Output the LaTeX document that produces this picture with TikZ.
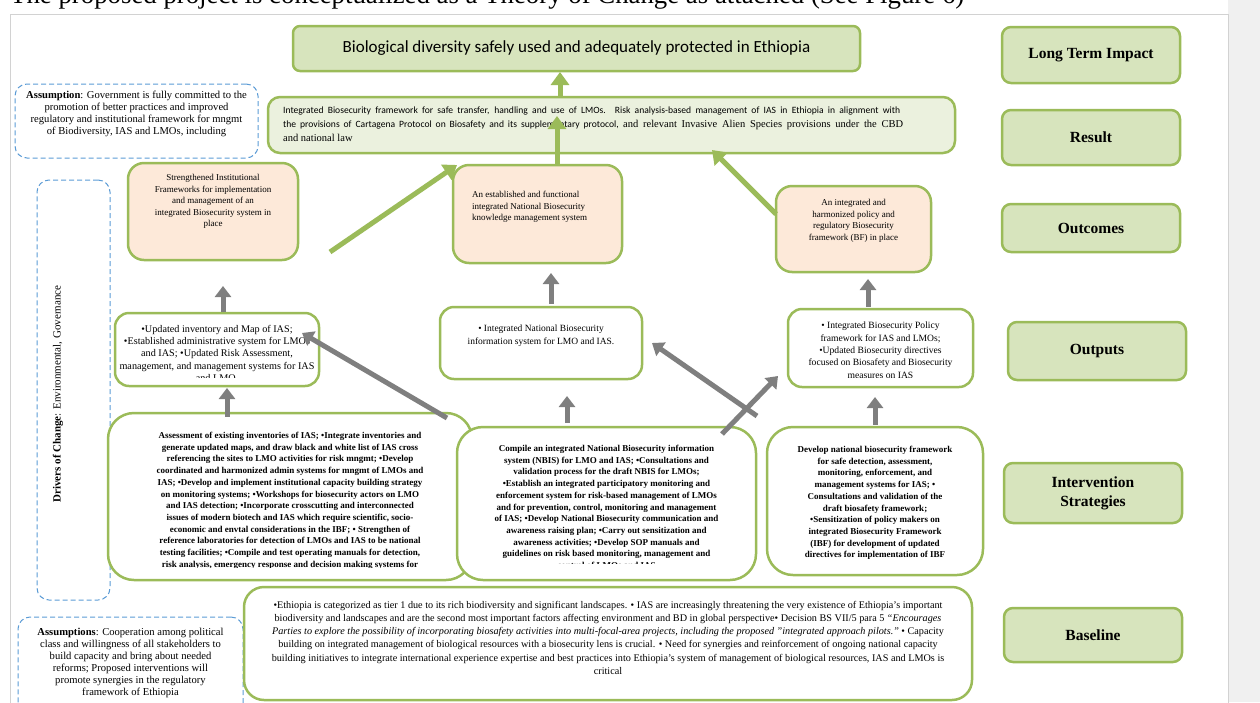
\documentclass[tikz,border=0pt]{standalone}
\usepackage{fontspec}
\setmainfont{Liberation Serif}
\newfontfamily\calibfont{Carlito}
\usetikzlibrary{arrows.meta}
\definecolor{tocgreen}{HTML}{9BBB59}
\definecolor{labelfill}{HTML}{D7E4BD}
\definecolor{resultfill}{HTML}{EBF1DE}
\definecolor{outcomefill}{HTML}{FDE9D9}
\definecolor{dashblue}{HTML}{5B9BD5}
\definecolor{arrowgray}{HTML}{7F7F7F}
\tikzset{
  tocbox/.style={draw=tocgreen,line width=2.5pt,inner sep=0pt},
  labelbox/.style={tocbox,rounded corners=9pt,fill=labelfill,minimum width=178pt,minimum height=55pt,align=center,font=\fontsize{15.5}{19}\selectfont\bfseries},
  outcomebox/.style={tocbox,rounded corners=16pt,fill=outcomefill},
  outputbox/.style={tocbox,rounded corners=14pt,fill=white},
  actionbox/.style={tocbox,rounded corners=26pt,fill=white},
  assumebox/.style={draw=dashblue,line width=1pt,dash pattern=on 5pt off 3pt,rounded corners=12pt,inner sep=0pt},
  smalltext/.style={inner sep=0pt,align=center,font=\fontsize{9}{11.6}\selectfont},
  boldtext/.style={inner sep=0pt,align=center,font=\fontsize{9}{11.7}\selectfont\bfseries},
  grayarrow/.style={draw=arrowgray,line width=5pt,-{Triangle[length=11pt,width=16pt]}},
  greenarrow/.style={draw=tocgreen,line width=5pt,-{Triangle[length=13pt,width=18pt]}}
}
\begin{document}
\begin{tikzpicture}[x=1pt,y=-1pt]
\useasboundingbox (0,0) rectangle (1260,702);
\clip (0,0) rectangle (1260,702);
% page frame
\fill[gray!12] (1228,0) rectangle (1260,702);
\draw[gray!35] (10,720) -- (10,14) -- (1228,14) -- (1228,720);
\node[anchor=base west,inner sep=0pt,font=\fontsize{26.8}{30}\selectfont] (introLine) at (10,3) {The proposed project is conceptualized as a Theory of Change as attached (See Figure 6)};

% right hand labels
\node[labelbox,minimum height=56pt] (impactLabel) at (1091,55) {Long Term Impact};
\node[labelbox] (resultLabel) at (1091,137.5) {Result};
\node[labelbox,minimum height=48pt] (outcomesLabel) at (1091,228) {Outcomes};
\node[labelbox,minimum height=58pt] (outputsLabel) at (1097,351) {Outputs};
\node[labelbox,minimum height=60pt] (strategyLabel) at (1093,493) {Intervention\\Strategies};
\node[labelbox,minimum height=54pt] (baselineLabel) at (1093,635) {Baseline};

% impact and result
\node[tocbox,rounded corners=7pt,fill=labelfill,minimum width=567pt,minimum height=45pt,font=\calibfont\fontsize{17}{20}\selectfont] (impact) at (576.5,48.5) {Biological diversity safely used and adequately protected in Ethiopia};
\node[tocbox,rounded corners=12pt,fill=resultfill,minimum width=687pt,minimum height=56pt] (result) at (611.5,125) {};
\node[anchor=north west,inner sep=0pt,align=left,font=\calibfont\fontsize{9.6}{14}\selectfont] (resultText) at (283,107) {\makebox[617pt][s]{Integrated Biosecurity framework for safe transfer, handling and use of LMOs. Risk analysis-based management of IAS in Ethiopia in alignment with}\\
\makebox[620pt][s]{the provisions of Cartagena Protocol on Biosafety and its supplementary protocol, {\rmfamily\fontsize{10.5}{14}\selectfont and relevant Invasive Alien Species provisions under the CBD}}\\
{\rmfamily\fontsize{10.5}{14}\selectfont and national law}};

% assumptions and drivers
\node[assumebox,minimum width=243pt,minimum height=74pt] (assumeTop) at (136.5,121) {};
\begin{scope}
\clip ([shift={(3pt,-3pt)}]assumeTop.north west) rectangle ([shift={(-3pt,3pt)}]assumeTop.south east);
\node[smalltext,font=\fontsize{10.6}{12}\selectfont,anchor=north] (assumeTopText) at (136.5,91) {\textbf{Assumption}: Government is fully committed to the\\
promotion of better practices  and improved\\
regulatory and institutional framework for mngmt\\
of Biodiversity, IAS and LMOs, including};
\end{scope}
\node[assumebox,minimum width=73pt,minimum height=420pt] (drivers) at (73.5,390) {};
\node[rotate=90,inner sep=0pt,font=\fontsize{11}{13}\selectfont] (driversText) at (58,394) {\textbf{Drivers of Change}: Environmental, Governance};
\node[assumebox,minimum width=225pt,minimum height=100pt] (assumeBottom) at (130.5,667) {};
\begin{scope}
\clip ([shift={(3pt,-3pt)}]assumeBottom.north west) rectangle (240,702);
\node[smalltext,font=\fontsize{10.6}{12}\selectfont,anchor=north] (assumeBottomText) at (130.5,628) {\textbf{Assumptions}: Cooperation among political\\
class and willingness of all stakeholders to\\
build capacity and bring about needed\\
reforms; Proposed interventions will\\
promote synergies in the regulatory\\
framework of Ethiopia};
\end{scope}

% outcomes
\node[outcomebox,minimum width=170pt,minimum height=97pt] (outcomeA) at (213,211.5) {};
\node[smalltext,anchor=north] (outcomeAText) at (213,174) {Strengthened Institutional\\
Frameworks for implementation\\
and management of an\\
integrated Biosecurity system in\\
place};
\node[outcomebox,minimum width=169pt,minimum height=98pt] (outcomeB) at (537.5,214) {};
\node[smalltext,align=left,anchor=north west] (outcomeBText) at (472,191) {An established and functional\\
integrated National Biosecurity\\
knowledge management system};
\node[outcomebox,minimum width=155pt,minimum height=86pt] (outcomeC) at (853.5,229) {};
\node[smalltext,anchor=north] (outcomeCText) at (853.5,199) {An integrated and\\
harmonized policy and\\
regulatory Biosecurity\\
framework (BF) in place};

% outputs
\node[outputbox,minimum width=204pt,minimum height=73pt] (outputA) at (217,349.5) {};
\begin{scope}
\clip ([shift={(3pt,-3pt)}]outputA.north west) rectangle ([shift={(-3pt,10pt)}]outputA.south east);
\node[smalltext,font=\fontsize{10.2}{12.3}\selectfont,anchor=north] (outputAText) at (217,325) {•Updated inventory and Map of IAS;\\
•Established administrative system for LMOs\\
and IAS; •Updated Risk Assessment,\\
management, and management systems for IAS\\
and LMO.};
\end{scope}
\node[outputbox,minimum width=202pt,minimum height=72pt] (outputB) at (541,343) {};
\node[smalltext,font=\fontsize{9.5}{12.3}\selectfont,anchor=north] (outputBText) at (541,325) {• Integrated National Biosecurity\\
information system for LMO and IAS.};
\node[outputbox,minimum width=185pt,minimum height=78pt] (outputC) at (880.5,348) {};
\begin{scope}
\clip ([shift={(3pt,-3pt)}]outputC.north west) rectangle ([shift={(-3pt,11pt)}]outputC.south east);
\node[smalltext,font=\fontsize{9.6}{12.3}\selectfont,anchor=north] (outputCText) at (880.5,322) {• Integrated Biosecurity Policy\\
framework for IAS and LMOs;\\
•Updated Biosecurity directives\\
focused on Biosafety and Biosecurity\\
measures on IAS};
\end{scope}

% intervention strategies
\node[actionbox,minimum width=364pt,minimum height=167pt] (actionA) at (290,496.5) {};
\begin{scope}
\clip ([shift={(4pt,-4pt)}]actionA.north west) rectangle ([shift={(-4pt,14pt)}]actionA.south east);
\node[boldtext,anchor=north] (actionAText) at (290,432) {Assessment of existing inventories of IAS; •Integrate inventories and\\
generate updated maps, and draw black and white list of IAS cross\\
referencing the sites to LMO activities for risk mngmt; •Develop\\
coordinated and harmonized admin systems for mngmt of LMOs and\\
IAS; •Develop and implement institutional capacity building strategy\\
on monitoring systems; •Workshops for biosecurity actors on LMO\\
and IAS detection;  •Incorporate crosscutting and interconnected\\
issues of modern biotech and IAS which require scientific, socio-\\
economic and envtal considerations in the IBF; • Strengthen of\\
reference  laboratories for detection of LMOs and IAS to be national\\
testing facilities; •Compile and test operating manuals for detection,\\
risk analysis, emergency response and decision making systems for};
\end{scope}
\node[actionbox,minimum width=299pt,minimum height=153pt] (actionB) at (606.5,503.5) {};
\begin{scope}
\clip ([shift={(4pt,-4pt)}]actionB.north west) rectangle ([shift={(-4pt,18pt)}]actionB.south east);
\node[boldtext,anchor=north] (actionBText) at (606.5,445) {Compile an integrated National Biosecurity information\\
system (NBIS) for LMO and IAS; •Consultations and\\
validation process for the draft NBIS for LMOs;\\
•Establish an integrated participatory monitoring and\\
enforcement system for risk-based management of LMOs\\
and for prevention, control, monitoring and management\\
of IAS; •Develop National Biosecurity communication and\\
awareness raising plan; •Carry out sensitization and\\
awareness activities; •Develop SOP manuals and\\
guidelines on risk based monitoring, management and\\
control of LMOs and IAS};
\end{scope}
\node[actionbox,minimum width=216pt,minimum height=148pt] (actionC) at (875,501) {};
\node[boldtext,anchor=north] (actionCText) at (875,446) {Develop national biosecurity framework\\
for safe detection, assessment,\\
monitoring, enforcement, and\\
management systems for IAS; •\\
Consultations and validation of the\\
draft biosafety framework;\\
•Sensitization of policy makers on\\
integrated Biosecurity Framework\\
(IBF) for development of updated\\
directives for implementation of IBF};

% baseline
\node[actionbox,rounded corners=20pt,minimum width=728pt,minimum height=113pt] (baseline) at (608,643.5) {};
\node[smalltext,font=\fontsize{10.2}{13.2}\selectfont,anchor=north] (baselineText) at (608,601) {•Ethiopia is categorized as tier 1 due to its rich biodiversity and significant landscapes. • IAS are increasingly threatening the very existence of Ethiopia's important\\
biodiversity and landscapes and are the second most important factors affecting environment and BD in global perspective• Decision BS VII/5 para 5 \textit{``Encourages}\\
\textit{Parties to explore the possibility of incorporating biosafety activities into multi-focal-area projects, including the proposed "integrated approach pilots."} • Capacity\\
building on integrated management of biological resources with a biosecurity lens is crucial. • Need for synergies and reinforcement of ongoing national capacity\\
building initiatives to integrate international experience expertise and best practices into Ethiopia's system of management of biological resources, IAS and LMOs is\\
critical};

% arrow ends
\coordinate (impactIn) at (560,72);
\coordinate (resultOut) at (560,97);
\coordinate (resultInB) at (557,116);
\coordinate (resultInA) at (457,165);
\coordinate (resultInC) at (712,150);
\coordinate (outcomeAOut) at (330,252);
\coordinate (outcomeCOut) at (776,214);
\coordinate (outcomeAIn) at (223,286);
\coordinate (outcomeBIn) at (551,273);
\coordinate (outcomeCIn) at (868,279);
\coordinate (outputAIn) at (227,388);
\coordinate (outputBIn) at (567,396);
\coordinate (outputCIn) at (875,397);
\coordinate (outputASide) at (302,333);
\coordinate (outputBSide) at (652,343);
\coordinate (outputCSide) at (778,376);
\coordinate (actionAOut) at (447,418);
\coordinate (actionBOut) at (722,434);
\coordinate (actionCOut) at (757,416);

% connectors
\draw[greenarrow] (resultOut) -- (impactIn);
\draw[greenarrow] (outcomeB.north -| resultInB) -- (resultInB);
\draw[greenarrow] (outcomeAOut) -- (resultInA);
\draw[greenarrow] (outcomeCOut) -- (resultInC);
\draw[grayarrow] (outputA.north -| outcomeAIn) -- (outcomeAIn);
\draw[grayarrow] ([yshift=2pt]outputB.north -| outcomeBIn) -- (outcomeBIn);
\draw[grayarrow] ([yshift=1pt]outputC.north -| outcomeCIn) -- (outcomeCIn);
\draw[grayarrow] ([yshift=-5pt]actionA.north -| outputAIn) -- (outputAIn);
\draw[grayarrow] ([yshift=3pt]actionB.north -| outputBIn) -- (outputBIn);
\draw[grayarrow] ([yshift=1pt]actionC.north -| outputCIn) -- (outputCIn);
\draw[grayarrow] (actionAOut) -- (outputASide);
\draw[grayarrow] (actionCOut) -- (outputBSide);
\draw[grayarrow] (actionBOut) -- (outputCSide);
\end{tikzpicture}
\end{document}
